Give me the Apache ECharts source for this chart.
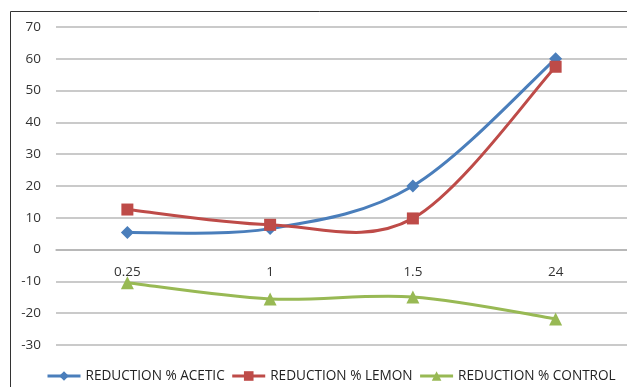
<!DOCTYPE html>
<html><head><meta charset="utf-8">
<script src="https://cdn.jsdelivr.net/npm/echarts@6/dist/echarts.min.js"></script>
<style>html,body{margin:0;padding:0;background:#fff}#c{width:627px;height:387px}</style>
</head><body><div id="c"></div>
<script>
var categories = ['0.25', '1', '1.5', '24'];
var acetic = [5.4, 6.6, 20, 60];
var lemon = [12.6, 7.8, 9.8, 57.5];
var control = [-10.4, -15.5, -14.9, -21.8];
var seriesNames = ['REDUCTION % ACETIC', 'REDUCTION % LEMON', 'REDUCTION % CONTROL'];

var chart = echarts.init(document.getElementById('c'));
var font = 'Open Sans, Liberation Sans, sans-serif';
var colors = ['#4A7EBB', '#BE4B48', '#98B954'];

// Excel-like smoothed curve (Catmull-Rom style Bezier) drawn through axis coordinates
function curveSeries(values, color) {
  return {
    type: 'custom', data: values.map(function (v, i) { return [i, v]; }),
    silent: true, z: 2,
    renderItem: function (params, api) {
      if (params.dataIndex !== 0) return null;
      var pts = values.map(function (v, i) { return api.coord([i, v]); });
      var n = pts.length, t = 1 / 6;
      var d = 'M' + pts[0][0] + ' ' + pts[0][1];
      for (var i = 0; i < n - 1; i++) {
        var p0 = pts[Math.max(i - 1, 0)], p1 = pts[i], p2 = pts[i + 1], p3 = pts[Math.min(i + 2, n - 1)];
        var c1 = [p1[0] + (p2[0] - p0[0]) * t, p1[1] + (p2[1] - p0[1]) * t];
        var c2 = [p2[0] - (p3[0] - p1[0]) * t, p2[1] - (p3[1] - p1[1]) * t];
        d += ' C' + c1[0] + ' ' + c1[1] + ' ' + c2[0] + ' ' + c2[1] + ' ' + p2[0] + ' ' + p2[1];
      }
      return {type: 'path', shape: {pathData: d},
        style: {fill: 'none', stroke: color, lineWidth: 3, lineJoin: 'round'}};
    }
  };
}
function mk(name, data, color, symbol, size) {
  return {
    name: name, type: 'line', data: data,
    symbol: symbol, symbolSize: size,
    lineStyle: {color: color, width: 3, opacity: 0},
    itemStyle: {color: color},
    z: 3
  };
}
chart.setOption({
  animation: false,
  graphic: [{type: 'rect', shape: {x: 10.5, y: 11.5, width: 700, height: 500},
    style: {fill: 'none', stroke: '#333', lineWidth: 1}, z: -1}],
  grid: {left: 56, top: 27, width: 574, height: 318},
  legend: {
    top: 369, left: 46, right: 0, padding: 0, itemWidth: 33, itemHeight: 12, itemGap: 6,
    lineStyle: {opacity: 1, width: 3},
    textStyle: {fontFamily: font, fontSize: 13.6, color: '#222'},
    data: seriesNames
  },
  xAxis: {
    type: 'category', data: categories, boundaryGap: true,
    offset: -95.4,
    axisLine: {show: true, onZero: false, lineStyle: {color: '#b3b3b3', width: 1.5}},
    axisTick: {show: false},
    axisLabel: {fontFamily: font, fontSize: 13.5, color: '#333', margin: 16}
  },
  yAxis: {
    type: 'value', min: -30, max: 70, interval: 10,
    axisLine: {show: false}, axisTick: {show: false},
    splitLine: {lineStyle: {color: '#b8b8b8', width: 1.5}},
    axisLabel: {fontFamily: font, fontSize: 13.5, color: '#333', margin: 15}
  },
  series: [
    curveSeries(acetic, colors[0]),
    curveSeries(lemon, colors[1]),
    curveSeries(control, colors[2]),
    mk(seriesNames[0], acetic, colors[0], 'diamond', 13),
    mk(seriesNames[1], lemon, colors[1], 'rect', 12),
    mk(seriesNames[2], control, colors[2], 'triangle', 13)
  ]
});
</script></body></html>
